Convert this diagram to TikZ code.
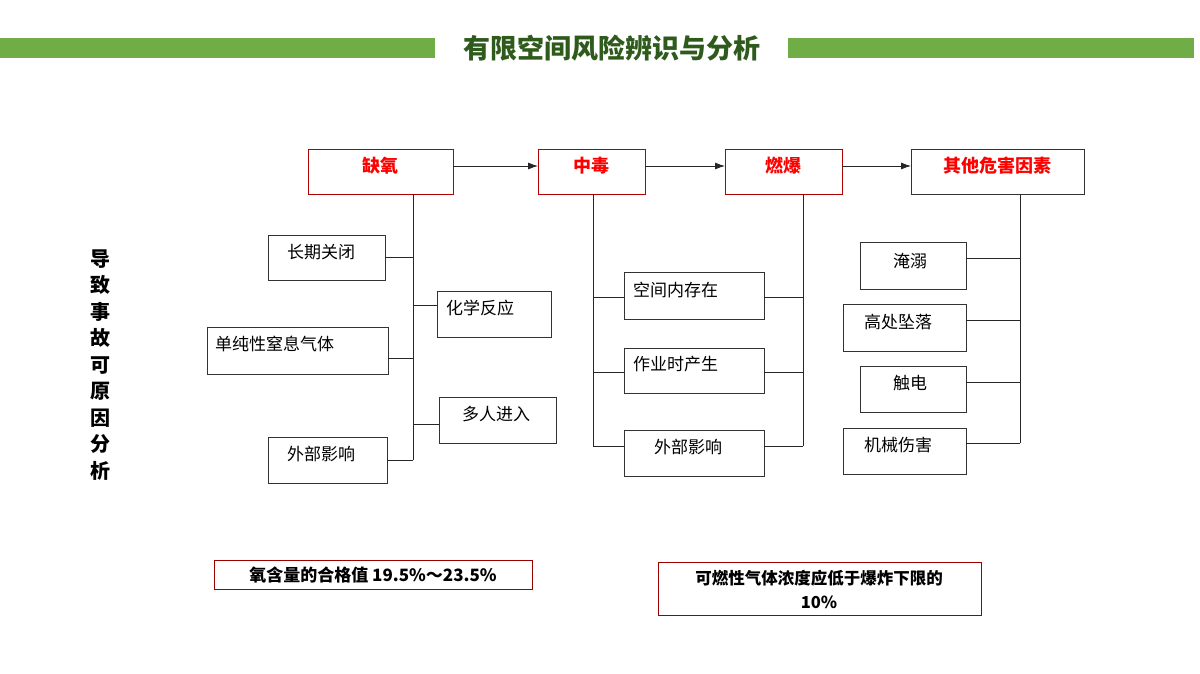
\documentclass[tikz,border=0pt]{standalone}
\usepackage{fontspec}
\setmainfont{Noto Sans CJK SC}
\usetikzlibrary{arrows.meta}
\definecolor{barg}{HTML}{70AD47}
\definecolor{titg}{HTML}{2E5A1C}
\begin{document}
\begin{tikzpicture}[x=1pt,y=-1pt,
  bx/.style={draw=black!80,line width=0.8pt},
  rbx/.style={draw=red!70!black,line width=0.8pt},
  txt/.style={font=\fontsize{17}{20}\selectfont,inner sep=0pt,anchor=west},
  htxt/.style={font=\fontsize{18}{20}\selectfont\bfseries,inner sep=0pt},
  ln/.style={black!85,line width=0.8pt},
  arr/.style={ln,-{Latex[length=10pt,width=7pt]}}]
\useasboundingbox (0,0) rectangle (1200,674);
\fill[barg] (0,38) rectangle (435,58);
\fill[barg] (788,38) rectangle (1194,58);
\node[font=\fontsize{27}{30}\selectfont\bfseries,text=titg] (title) at (612,48) {有限空间风险辨识与分析};
% headers
\draw[rbx] (308,149) rectangle (453,194); \node[htxt,text=red] (h1) at (380.5,166) {缺氧};
\draw[rbx] (538,149) rectangle (645,194); \node[htxt,text=red] (h2) at (591.5,166) {中毒};
\draw[rbx] (725,149) rectangle (842,194); \node[htxt,text=red] (h3) at (783.5,166) {燃爆};
\draw[bx] (911,149) rectangle (1084,194); \node[htxt,text=red] (h4) at (997.5,166) {其他危害因素};
\coordinate (a1) at (453,166); \coordinate (b1) at (538,166);
\coordinate (a2) at (645,166); \coordinate (b2) at (725,166);
\coordinate (a3) at (842,166); \coordinate (b3) at (911,166);
\draw[arr] (a1) -- (b1); \draw[arr] (a2) -- (b2); \draw[arr] (a3) -- (b3);
% column 1
\coordinate (t1a) at (413,194); \coordinate (t1b) at (413,460);
\draw[ln] (t1a) -- (t1b);
\draw[bx] (268,235) rectangle (385,280); \node[txt] (c11) at (287,252) {长期关闭};
\draw[ln] (385,257) -- (413,257);
\draw[bx] (437,291) rectangle (551,337); \node[txt] (c12) at (446,308) {化学反应};
\draw[ln] (413,305) -- (437,305);
\draw[bx] (207,327) rectangle (388,374); \node[txt] (c13) at (215,344) {单纯性窒息气体};
\draw[ln] (388,358) -- (413,358);
\draw[bx] (439,397) rectangle (556,443); \node[txt] (c14) at (462,414) {多人进入};
\draw[ln] (413,424) -- (439,424);
\draw[bx] (268,437) rectangle (387,483); \node[txt] (c15) at (287,454) {外部影响};
\draw[ln] (387,460) -- (413,460);
% column 2/3
\draw[ln] (593,194) -- (593,446);
\draw[ln] (803,194) -- (803,446);
\draw[bx] (624,272) rectangle (764,319); \node[txt] (c21) at (633,290) {空间内存在};
\draw[bx] (624,348) rectangle (764,393); \node[txt] (c22) at (633,364) {作业时产生};
\draw[bx] (624,430) rectangle (764,476); \node[txt] (c23) at (654,447) {外部影响};
\foreach \y in {297,372,446} {\draw[ln] (593,\y) -- (624,\y); \draw[ln] (764,\y) -- (803,\y);}
% column 4
\draw[ln] (1020,194) -- (1020,443);
\draw[bx] (860,242) rectangle (966,289); \node[txt] (c41) at (893,261) {淹溺};
\draw[bx] (843,304) rectangle (966,351); \node[txt] (c42) at (864,322) {高处坠落};
\draw[bx] (860,366) rectangle (966,412); \node[txt] (c43) at (893,383) {触电};
\draw[bx] (843,428) rectangle (966,474); \node[txt] (c44) at (864,445) {机械伤害};
\foreach \y in {258,320,382,443} {\draw[ln] (966,\y) -- (1020,\y);}
% left vertical
\node[font=\fontsize{20}{26.5}\selectfont\bfseries,align=center,inner sep=0pt] (side) at (100,365) {导\\致\\事\\故\\可\\原\\因\\分\\析};
% notes
\draw[draw=red!60!black,line width=0.7pt] (214,560) rectangle (532,589);
\node[font=\fontsize{17}{18}\selectfont\bfseries,inner sep=0pt] (n1) at (373,575) {氧含量的合格值 19.5\%～23.5\%};
\draw[draw=red!60!black,line width=0.7pt] (658,562) rectangle (981,615);
\node[font=\fontsize{16.5}{24}\selectfont\bfseries,align=center,inner sep=0pt] (n2) at (819,589) {可燃性气体浓度应低于爆炸下限的\\10\%};
\end{tikzpicture}
\end{document}
